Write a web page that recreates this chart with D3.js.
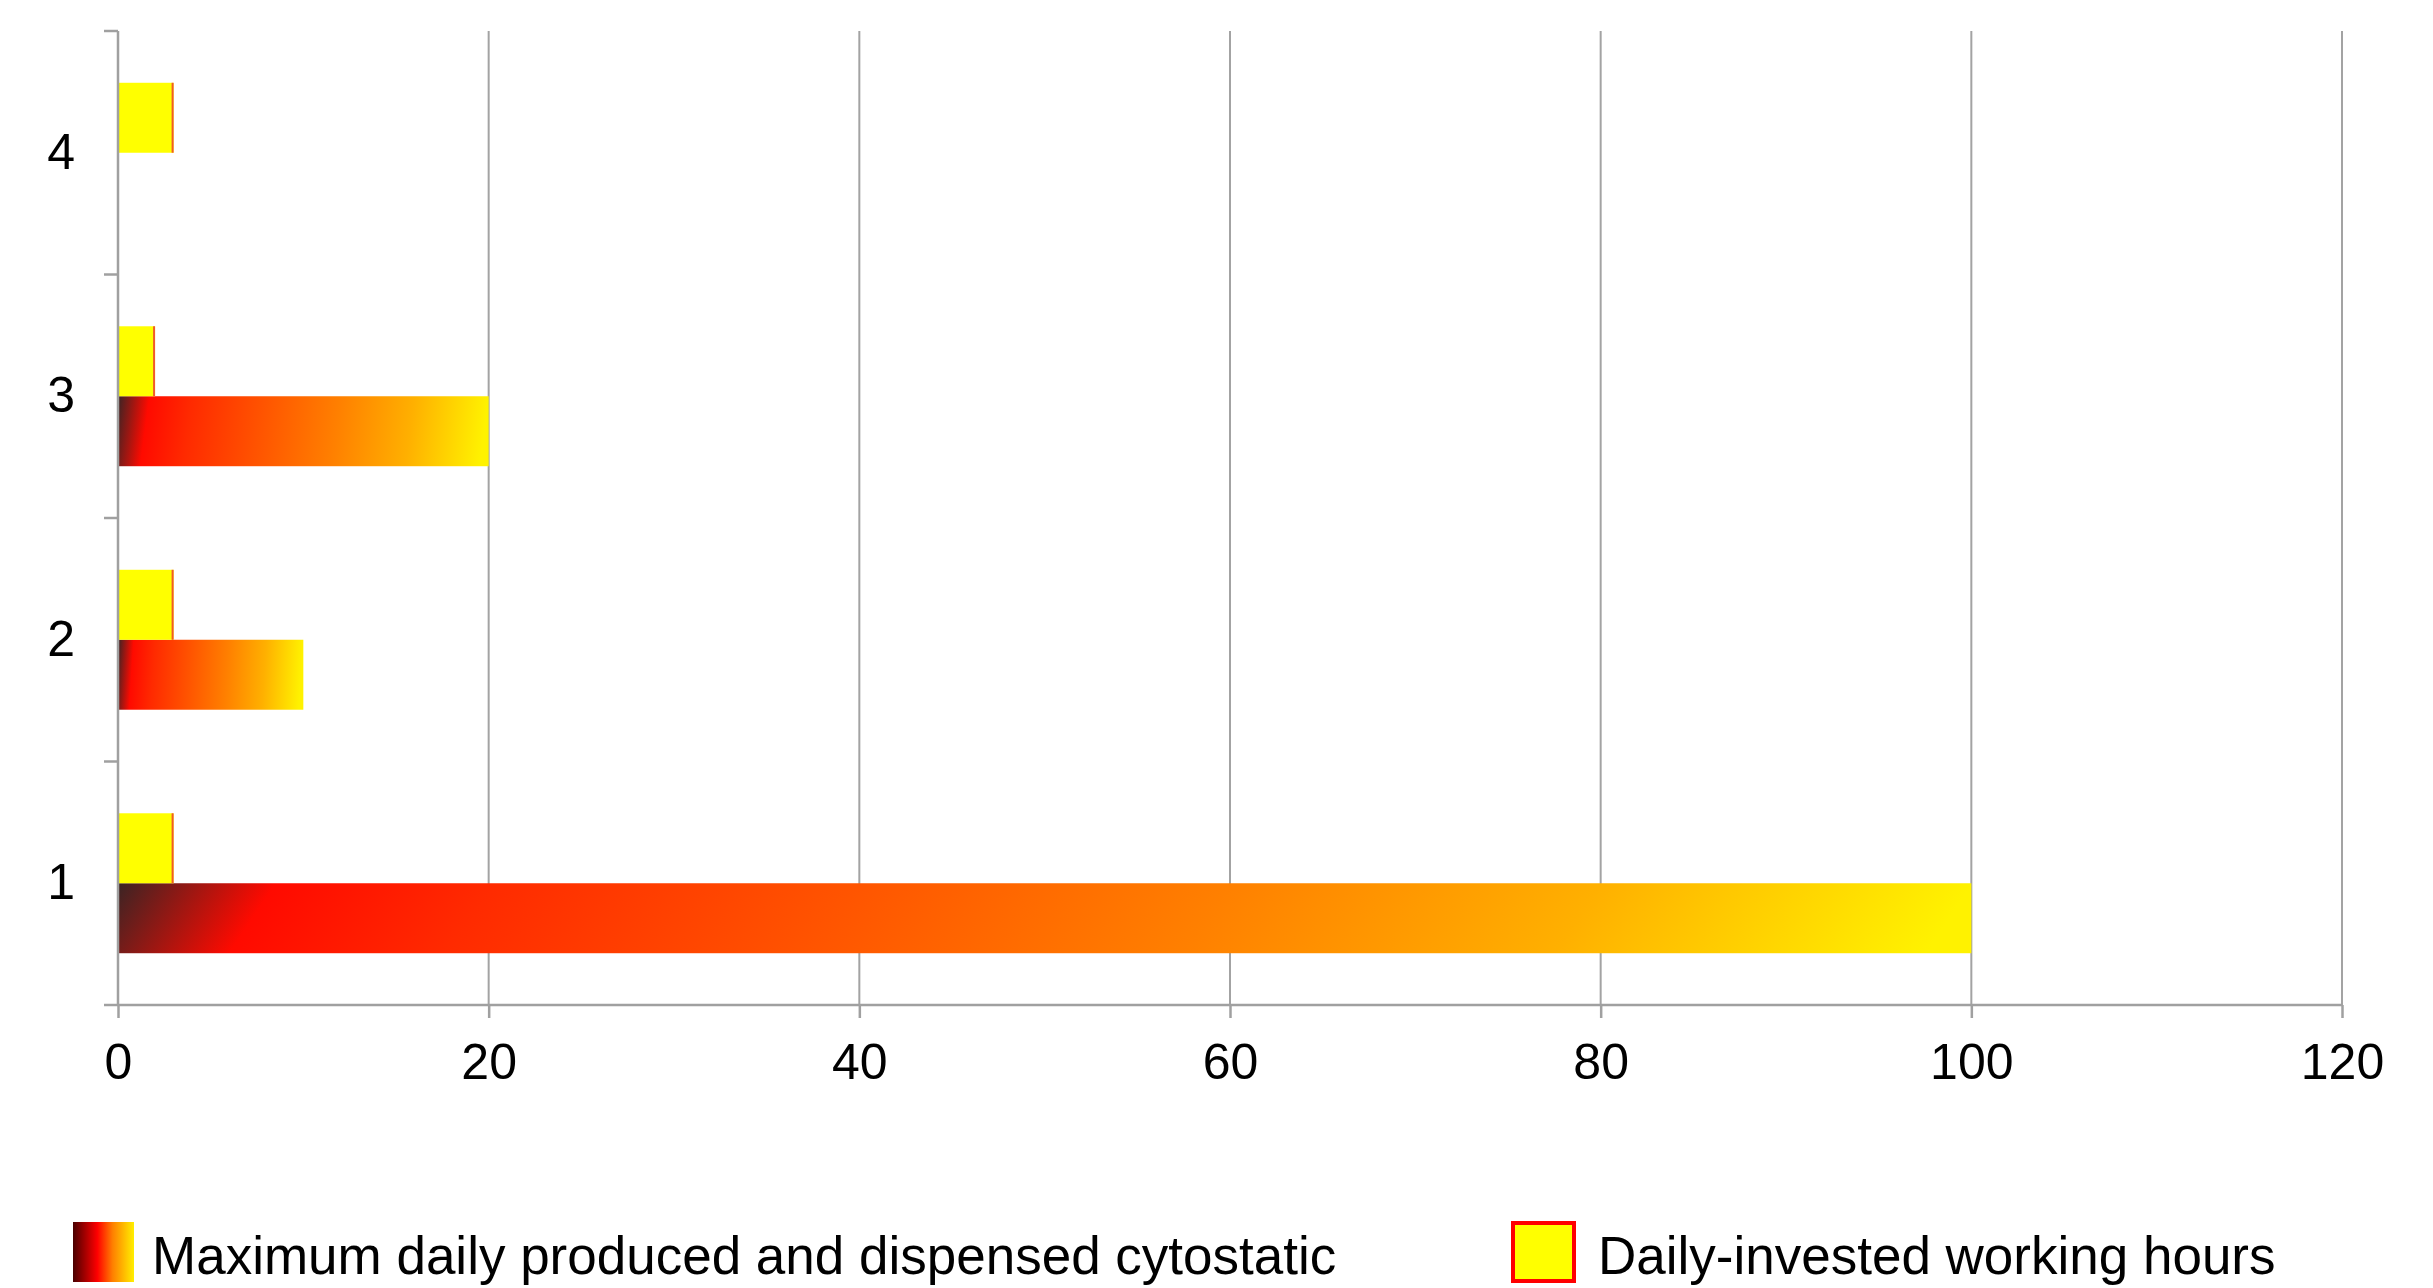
<!DOCTYPE html>
<html>
<head>
<meta charset="utf-8">
<script src="https://d3js.org/d3.v7.min.js"></script>
<style>
body { margin:0; background:white; }
svg { display:block; font-family:"Liberation Sans", Arial, sans-serif; }
</style>
</head>
<body>
<svg></svg>
<script>
var categories = ["1", "2", "3", "4"]
var seriesNames = ["Daily-invested working hours", "Maximum daily produced and dispensed cytostatic"]
var workingHours = [3, 3, 2, 3]
var cytostatic = [100, 10, 20, 0]
var xTicks = [0, 20, 40, 60, 80, 100, 120]

var drawChart = function(target)
{
    var screen = {width:2433, height:1288}
    var margins = {top:31, bottom:283, left:118, right:91}
    var graph = {
        width:screen.width-margins.left-margins.right,
        height:screen.height-margins.top-margins.bottom
    }

    var svg = d3.select(target)
        .attr("width", screen.width)
        .attr("height", screen.height)

    var defs = svg.append("defs")

    var barGrad = defs.append("linearGradient")
        .attr("id", "barGrad")
        .attr("x1", 0).attr("y1", 0)
        .attr("x2", 1).attr("y2", 0.025)
    var barStops = [
        [0, "#3a2424"], [0.085, "#ff0a00"], [0.2, "#ff2a00"], [0.4, "#ff5500"],
        [0.6, "#ff8000"], [0.8, "#ffb000"], [1, "#fff200"]
    ]
    barStops.forEach(function(s)
    {
        barGrad.append("stop").attr("offset", s[0]).attr("stop-color", s[1])
    })

    var legendGrad = defs.append("linearGradient")
        .attr("id", "legendGrad")
        .attr("x1", 0).attr("y1", 0)
        .attr("x2", 1).attr("y2", 0)
    var legendStops = [[0, "#4a0000"], [0.4, "#ff0000"], [0.65, "#ff8000"], [1, "#ffef00"]]
    legendStops.forEach(function(s)
    {
        legendGrad.append("stop").attr("offset", s[0]).attr("stop-color", s[1])
    })

    var g = svg.append("g")
        .attr("transform", "translate(" + margins.left + "," + margins.top + ")")

    var xScale = d3.scaleLinear()
        .domain([0, 120])
        .range([0, graph.width])

    var yScale = d3.scaleBand()
        .domain(categories.slice().reverse())
        .range([0, graph.height])
        .padding(0)

    var subScale = d3.scaleBand()
        .domain([0, 1])
        .range([0, yScale.bandwidth()])
        .paddingInner(0)
        .paddingOuter(0.74)

    // vertical grid lines
    g.append("g")
        .selectAll("line")
        .data(xTicks.slice(1))
        .enter()
        .append("line")
        .attr("x1", function(d) { return xScale(d) })
        .attr("x2", function(d) { return xScale(d) })
        .attr("y1", 0)
        .attr("y2", graph.height)
        .attr("stroke", "#a3a3a3")
        .attr("stroke-width", 2)

    var rows = categories.map(function(c, i)
    {
        return {cat:c, hours:workingHours[i], cyto:cytostatic[i]}
    })

    var groups = g.append("g")
        .selectAll("g")
        .data(rows)
        .enter()
        .append("g")
        .attr("transform", function(d) { return "translate(0," + yScale(d.cat) + ")" })

    groups.filter(function(d) { return d.cyto > 0 })
        .append("rect")
        .attr("x", xScale(0))
        .attr("y", subScale(1))
        .attr("width", function(d) { return xScale(d.cyto) - xScale(0) })
        .attr("height", subScale.bandwidth())
        .attr("fill", "url(#barGrad)")

    groups.append("rect")
        .attr("x", xScale(0))
        .attr("y", subScale(0))
        .attr("width", function(d) { return xScale(d.hours) - xScale(0) })
        .attr("height", subScale.bandwidth())
        .attr("fill", "#ffff00")

    groups.append("line")
        .attr("x1", function(d) { return xScale(d.hours) - 1 })
        .attr("x2", function(d) { return xScale(d.hours) - 1 })
        .attr("y1", subScale(0))
        .attr("y2", subScale(0) + subScale.bandwidth())
        .attr("stroke", "#f05a28")
        .attr("stroke-width", 2)

    // x axis
    var xAxis = d3.axisBottom(xScale)
        .tickValues(xTicks)
        .tickSize(13)
        .tickPadding(25)
    var xg = g.append("g")
        .attr("transform", "translate(0," + graph.height + ")")
        .call(xAxis)
    xg.selectAll("path, line").attr("stroke", "#a0a0a0").attr("stroke-width", 2.5)
    xg.select(".domain").attr("d", "M0,0H" + graph.width)
    xg.selectAll("text")
        .attr("font-size", 50)
        .attr("font-family", "Liberation Sans, Arial, sans-serif")
        .attr("fill", "black")

    // y axis
    var yAxis = d3.axisLeft(yScale)
        .tickSize(0)
        .tickPadding(43)
    var yg = g.append("g").call(yAxis)
    yg.select(".domain").attr("d", "M0,0V" + graph.height)
        .attr("stroke", "#a0a0a0").attr("stroke-width", 2.5)
    yg.selectAll("text")
        .attr("font-size", 50)
        .attr("font-family", "Liberation Sans, Arial, sans-serif")
        .attr("fill", "black")

    var bounds = yScale.domain().map(function(c) { return yScale(c) })
    bounds.push(graph.height)
    yg.selectAll(".bound")
        .data(bounds)
        .enter()
        .append("line")
        .classed("bound", true)
        .attr("x1", -14)
        .attr("x2", 0)
        .attr("y1", function(d) { return d })
        .attr("y2", function(d) { return d })
        .attr("stroke", "#a0a0a0")
        .attr("stroke-width", 2.5)

    // legend
    var legend = svg.append("g")
    legend.append("rect")
        .attr("x", 73).attr("y", 1222)
        .attr("width", 61).attr("height", 60)
        .attr("fill", "url(#legendGrad)")
    legend.append("text")
        .attr("x", 152).attr("y", 1274)
        .attr("font-size", 53)
        .text(seriesNames[1])

    legend.append("rect")
        .attr("x", 1513).attr("y", 1223)
        .attr("width", 61).attr("height", 58)
        .attr("fill", "#ffff00")
        .attr("stroke", "#ff0000")
        .attr("stroke-width", 4)
    legend.append("text")
        .attr("x", 1598).attr("y", 1274)
        .attr("font-size", 53)
        .text(seriesNames[0])
}

drawChart("svg")
</script>
</body>
</html>
